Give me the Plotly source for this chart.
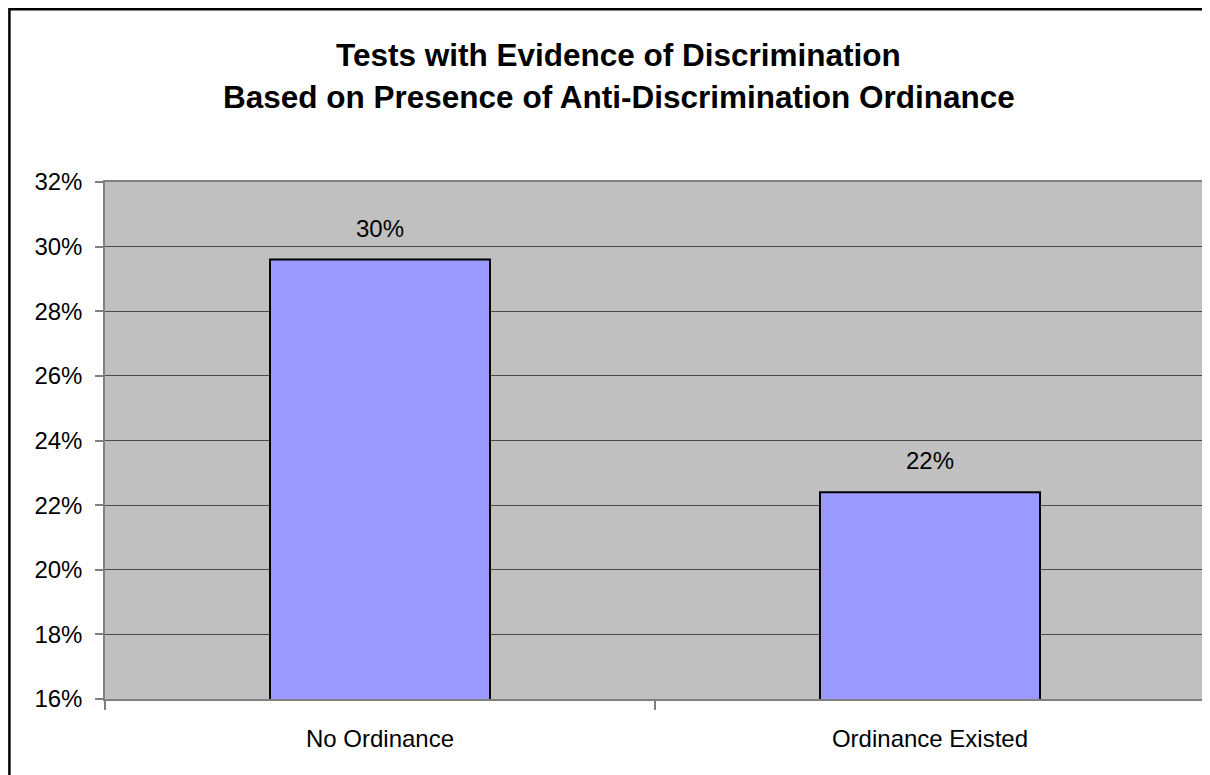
import plotly.graph_objects as go

categories = ["No Ordinance", "Ordinance Existed"]
values = [0.296, 0.224]
y_ticks = [0.16, 0.18, 0.20, 0.22, 0.24, 0.26, 0.28, 0.30, 0.32]
title_lines = ["Tests with Evidence of Discrimination",
               "Based on Presence of Anti-Discrimination Ordinance"]

FONT = "Liberation Sans, Arial, sans-serif"

fig = go.Figure()
fig.add_trace(go.Bar(
    x=categories, y=values, width=0.4,
    marker=dict(color="#9999FF", line=dict(color="#000000", width=2)),
    hoverinfo="skip", showlegend=False,
))

for c, v in zip(categories, values):
    fig.add_annotation(x=c, y=v, text=f"{round(v*100):d}%", showarrow=False,
                       yanchor="bottom", yshift=16,
                       font=dict(family=FONT, size=24, color="#000000"))

# title lines (two separate annotations for the wide line spacing)
for line, shift in zip(title_lines, [127, 85]):
    fig.add_annotation(xref="paper", yref="paper", x=0.467, y=1.0, yshift=shift,
                       xanchor="center", yanchor="middle",
                       text="<b>" + line + "</b>", showarrow=False,
                       font=dict(family=FONT, size=31.5, color="#000000"))

# outer chart border (clipped at right and bottom as in the reference)
fig.add_shape(type="rect", xref="paper", yref="paper",
              x0=-0.0869, x1=1.01, y0=-0.2, y1=1.3342,
              line=dict(color="#000000", width=2.5), layer="above")

fig.update_layout(
    width=1202, height=767,
    margin=dict(l=97, r=3, t=174, b=76),
    paper_bgcolor="#FFFFFF", plot_bgcolor="#C0C0C0",
    font=dict(family=FONT, size=24, color="#000000"),
)
fig.update_xaxes(
    showline=True, linecolor="#808080", linewidth=1.5, mirror=True,
    ticks="outside", ticklen=9, tickcolor="#808080", tickwidth=1.5,
    tickson="boundaries", showgrid=False,
    tickfont=dict(family=FONT, size=24), ticklabelstandoff=17,
)
fig.update_yaxes(
    range=[0.16, 0.32], tickvals=y_ticks, tickformat=".0%",
    showline=True, linecolor="#808080", linewidth=1.5, mirror=True,
    ticks="outside", ticklen=8, tickcolor="#808080", tickwidth=1.5,
    showgrid=True, gridcolor="#4a4a4a", gridwidth=1.2,
    zeroline=False, tickfont=dict(family=FONT, size=24), ticklabelstandoff=8,
)

fig.write_html("out.html")
